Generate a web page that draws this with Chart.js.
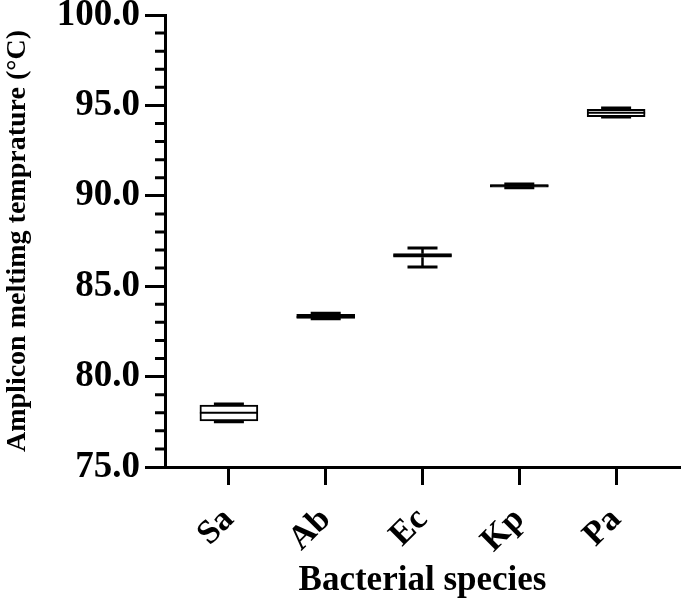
<!DOCTYPE html>
<html>
<head>
<meta charset="utf-8">
<script src="https://cdn.jsdelivr.net/npm/chart.js@4.4.1/dist/chart.umd.min.js"></script>
<style>
  body { margin: 0; background: #fff; }
  canvas { display: block; }
</style>
</head>
<body>
<canvas id="grafico" width="685" height="602"></canvas>
<script>
const categorias = ['Sa', 'Ab', 'Ec', 'Kp', 'Pa'];
const minimos = [77.5, 83.2, 86.06, 90.45, 94.36];
const cuartil1 = [77.55, 83.22, 86.6, 90.48, 94.38];
const medianas = [78.0, 83.3, 86.7, 90.55, 94.6];
const cuartil3 = [78.43, 83.45, 86.8, 90.62, 94.78];
const maximos = [78.48, 83.5, 87.11, 90.65, 94.85];
const ticksY = [75, 80, 85, 90, 95, 100];

const fuente = "'Liberation Serif', 'Times New Roman', serif";

// whiskers, caps, medians and the small y ticks
const bigotes = {
  id: 'bigotes',
  afterDatasetsDraw(chart) {
    const ctx = chart.ctx;
    const x = chart.scales.x;
    const y = chart.scales.y;
    ctx.save();
    ctx.strokeStyle = '#000';
    ctx.lineCap = 'butt';
    categorias.forEach((c, i) => {
      const cx = x.getPixelForValue(i);
      ctx.lineWidth = 2.5;
      ctx.beginPath();
      ctx.moveTo(cx, y.getPixelForValue(maximos[i]));
      ctx.lineTo(cx, y.getPixelForValue(cuartil3[i]));
      ctx.moveTo(cx, y.getPixelForValue(cuartil1[i]));
      ctx.lineTo(cx, y.getPixelForValue(minimos[i]));
      ctx.stroke();
      ctx.lineWidth = 3;
      ctx.beginPath();
      ctx.moveTo(cx - 15, y.getPixelForValue(maximos[i]));
      ctx.lineTo(cx + 15, y.getPixelForValue(maximos[i]));
      ctx.moveTo(cx - 15, y.getPixelForValue(minimos[i]));
      ctx.lineTo(cx + 15, y.getPixelForValue(minimos[i]));
      ctx.stroke();
      ctx.lineWidth = 2;
      ctx.beginPath();
      ctx.moveTo(cx - 29, y.getPixelForValue(medianas[i]));
      ctx.lineTo(cx + 29, y.getPixelForValue(medianas[i]));
      ctx.stroke();
    });
    // minor ticks
    ctx.lineWidth = 3;
    ctx.beginPath();
    for (let v = y.min; v <= y.max; v++) {
      if (v % 5 === 0) continue;
      const py = y.getPixelForValue(v);
      ctx.moveTo(chart.chartArea.left - 10, py);
      ctx.lineTo(chart.chartArea.left, py);
    }
    ctx.stroke();
    ctx.restore();
  }
};

new Chart(document.getElementById('grafico'), {
  type: 'bar',
  data: {
    datasets: [{
      data: categorias.map((c, i) => ({ x: i, y: [cuartil1[i], cuartil3[i]] })),
      backgroundColor: '#fff',
      borderColor: '#000',
      borderWidth: 2,
      borderSkipped: false,
      barThickness: 58
    }]
  },
  options: {
    responsive: false,
    animation: false,
    layout: { padding: { top: 15, right: 5, left: 0, bottom: 0 } },
    plugins: { legend: { display: false }, tooltip: { enabled: false } },
    scales: {
      x: {
        type: 'linear',
        min: -0.66,
        max: 4.66,
        offset: false,
        afterBuildTicks: s => { s.ticks = categorias.map((c, i) => ({ value: i })); },
        afterFit: s => { s.height = 135; s.paddingLeft = 0; s.paddingRight = 0; },
        border: { color: '#000', width: 3 },
        grid: { offset: false, drawOnChartArea: false, tickLength: 18, tickWidth: 3, tickColor: '#000' },
        ticks: {
          autoSkip: false,
          maxRotation: 45,
          minRotation: 45,
          padding: 15,
          color: '#000',
          font: { family: fuente, size: 34, weight: 'bold' },
          callback: v => categorias[v]
        },
        title: {
          display: true,
          text: 'Bacterial species',
          color: '#000',
          padding: { top: 0, bottom: 0 },
          font: { family: fuente, size: 35, weight: 'bold' }
        }
      },
      y: {
        min: 75,
        max: 100,
        afterBuildTicks: s => { s.ticks = ticksY.map(v => ({ value: v })); },
        afterFit: s => { s.width = 165; s.paddingTop = 0; s.paddingBottom = 0; },
        border: { color: '#000', width: 3 },
        grid: { drawOnChartArea: false, tickLength: 20, tickWidth: 3, tickColor: '#000' },
        ticks: {
          padding: 5,
          color: '#000',
          font: { family: fuente, size: 37, weight: 'bold' },
          callback: v => v.toFixed(1)
        },
        title: {
          display: true,
          text: 'Amplicon meltimg temprature (°C)',
          color: '#000',
          padding: { top: 1, bottom: 0 },
          font: { family: fuente, size: 28, weight: 'bold' }
        }
      }
    }
  },
  plugins: [bigotes]
});
</script>
</body>
</html>
